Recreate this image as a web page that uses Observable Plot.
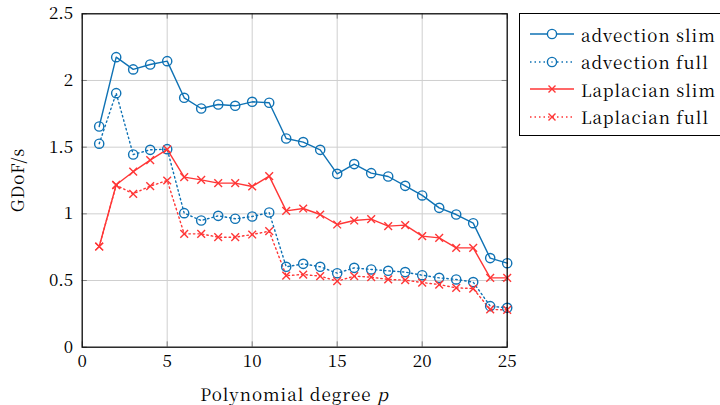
<!DOCTYPE html>
<html>
<head>
<meta charset="utf-8">
<script src="https://cdn.jsdelivr.net/npm/d3@7"></script>
<script src="https://cdn.jsdelivr.net/npm/@observablehq/plot@0.6"></script>
<style>
  html, body { margin: 0; padding: 0; background: #fff; }
  #wrap { position: relative; width: 720px; height: 405px; overflow: hidden; font-family: "Noto Serif CJK SC", "Liberation Serif", serif; color: #000; }
  .lbl { position: absolute; white-space: nowrap; font-size: 17px; line-height: 1; letter-spacing: 1px; }
  #xlabel { left: 294.5px; top: 393px; transform: translate(-50%, -50%); }
  #ylabel { left: 16px; top: 180px; transform: translate(-50%, -50%) rotate(-90deg); }
  #legend { position: absolute; left: 519px; top: 13px; width: 210px; height: 122.5px; border: 1.3px solid #000; box-sizing: border-box; font-size: 17px; }
  .row { position: absolute; left: 8px; height: 20px; display: flex; align-items: center; white-space: nowrap; }
  .row svg { margin-right: 7px; flex: none; }
  .row span { display: inline-block; letter-spacing: 1px; line-height: 1; }
</style>
</head>
<body>
<div id="wrap">
  <div id="chart"></div>
  <div id="xlabel" class="lbl">Polynomial degree <i>p</i></div>
  <div id="ylabel" class="lbl">GDoF/s</div>
  <div id="legend"></div>
</div>
<script>
const degrees = [1,2,3,4,5,6,7,8,9,10,11,12,13,14,15,16,17,18,19,20,21,22,23,24,25];
const advectionSlim = [1.655,2.175,2.083,2.12,2.145,1.87,1.79,1.82,1.81,1.84,1.833,1.565,1.538,1.48,1.30,1.373,1.305,1.28,1.21,1.138,1.045,0.995,0.93,0.668,0.63];
const advectionFull = [1.526,1.905,1.445,1.48,1.485,1.005,0.95,0.985,0.963,0.98,1.01,0.603,0.625,0.603,0.555,0.595,0.583,0.573,0.563,0.54,0.52,0.508,0.488,0.308,0.295];
const laplacianSlim = [0.755,1.218,1.316,1.403,1.483,1.275,1.255,1.23,1.23,1.205,1.283,1.022,1.04,0.995,0.92,0.95,0.96,0.908,0.915,0.833,0.82,0.745,0.745,0.52,0.52];
const laplacianFull = [0.755,1.215,1.15,1.208,1.25,0.85,0.85,0.825,0.825,0.845,0.87,0.537,0.545,0.533,0.495,0.533,0.525,0.508,0.503,0.485,0.47,0.445,0.44,0.283,0.28];
const xTicks = [0,5,10,15,20,25];
const yTicks = [0,0.5,1,1.5,2,2.5];
const seriesNames = ["advection slim","advection full","Laplacian slim","Laplacian full"];

const blue = "#0f72b4";
const red = "#ff3636";
const styles = {
  "advection slim": {color: blue, dash: null, symbol: "circle"},
  "advection full": {color: blue, dash: "1.5,3", symbol: "circle"},
  "Laplacian slim": {color: red, dash: null, symbol: "times"},
  "Laplacian full": {color: red, dash: "1.5,3", symbol: "times"}
};
const seriesValues = [advectionSlim, advectionFull, laplacianSlim, laplacianFull];
const series = seriesNames.map((name, i) => ({name, data: degrees.map((p, j) => ({p, v: seriesValues[i][j]}))}));

const tickLen = 0.04; // in y units (~5px)
const tickLenX = 0.3;  // in x units (~5px)

const marks = [
  Plot.gridX(xTicks, {stroke: "#cfcfcf", strokeOpacity: 1, strokeWidth: 1}),
  Plot.gridY(yTicks, {stroke: "#cfcfcf", strokeOpacity: 1, strokeWidth: 1}),
  Plot.ruleX(xTicks, {y1: 0, y2: tickLen, stroke: "#808080", strokeWidth: 1}),
  Plot.ruleX(xTicks, {y1: 2.5 - tickLen, y2: 2.5, stroke: "#808080", strokeWidth: 1}),
  Plot.ruleY(yTicks, {x1: 0, x2: tickLenX, stroke: "#808080", strokeWidth: 1}),
  Plot.ruleY(yTicks, {x1: 25 - tickLenX, x2: 25, stroke: "#808080", strokeWidth: 1}),
  Plot.axisX(xTicks, {tickSize: 0, tickPadding: 8, fontSize: 17, label: null, tickFormat: d => String(d)}),
  Plot.axisY(yTicks, {tickSize: 0, tickPadding: 9, fontSize: 17, label: null, tickFormat: d => String(d)})
];
for (const s of series) {
  const st = styles[s.name];
  marks.push(Plot.line(s.data, {x: "p", y: "v", stroke: st.color, strokeWidth: 1.4, strokeDasharray: st.dash}));
}
for (const s of series) {
  const st = styles[s.name];
  if (st.symbol === "circle") {
    marks.push(Plot.dot(s.data, {x: "p", y: "v", r: 4.6, stroke: st.color, strokeWidth: 1.4, fill: "none"}));
  } else {
    marks.push(Plot.dot(s.data, {x: "p", y: "v", r: 3.6, symbol: "times", stroke: st.color, strokeWidth: 1.4, fill: "none"}));
  }
}
marks.push(Plot.frame({stroke: "#000", strokeWidth: 1.2}));

const chart = Plot.plot({
  width: 720,
  height: 405,
  marginLeft: 81.7,
  marginRight: 213.3,
  marginTop: 13.3,
  marginBottom: 58.3,
  x: {domain: [0, 25]},
  y: {domain: [0, 2.5]},
  style: {fontFamily: "'Noto Serif CJK SC', 'Liberation Serif', serif", fontSize: "17px", color: "#000", background: "#fff"},
  marks
});
document.getElementById("chart").appendChild(chart);

// legend
const legend = document.getElementById("legend");
const rowTops = [10, 37.5, 65, 92.5];
seriesNames.forEach((name, i) => {
  const st = styles[name];
  const row = document.createElement("div");
  row.className = "row";
  row.style.top = rowTops[i] + "px";
  const svg = d3.create("svg").attr("width", 46).attr("height", 20);
  svg.append("line").attr("x1", 2).attr("x2", 46).attr("y1", 10).attr("y2", 10)
    .attr("stroke", st.color).attr("stroke-width", 1.4).attr("stroke-dasharray", st.dash);
  if (st.symbol === "circle") {
    svg.append("circle").attr("cx", 24).attr("cy", 10).attr("r", 4.6)
      .attr("fill", "#fff").attr("stroke", st.color).attr("stroke-width", 1.4);
    if (st.dash) svg.append("circle").attr("cx", 24).attr("cy", 10).attr("r", 0.8).attr("fill", st.color);
  } else {
    svg.append("path").attr("d", "M20.5,6.5L27.5,13.5M20.5,13.5L27.5,6.5")
      .attr("stroke", st.color).attr("stroke-width", 1.4);
  }
  row.appendChild(svg.node());
  const t = document.createElement("span");
  t.textContent = name;
  row.appendChild(t);
  legend.appendChild(row);
});
</script>
</body>
</html>
